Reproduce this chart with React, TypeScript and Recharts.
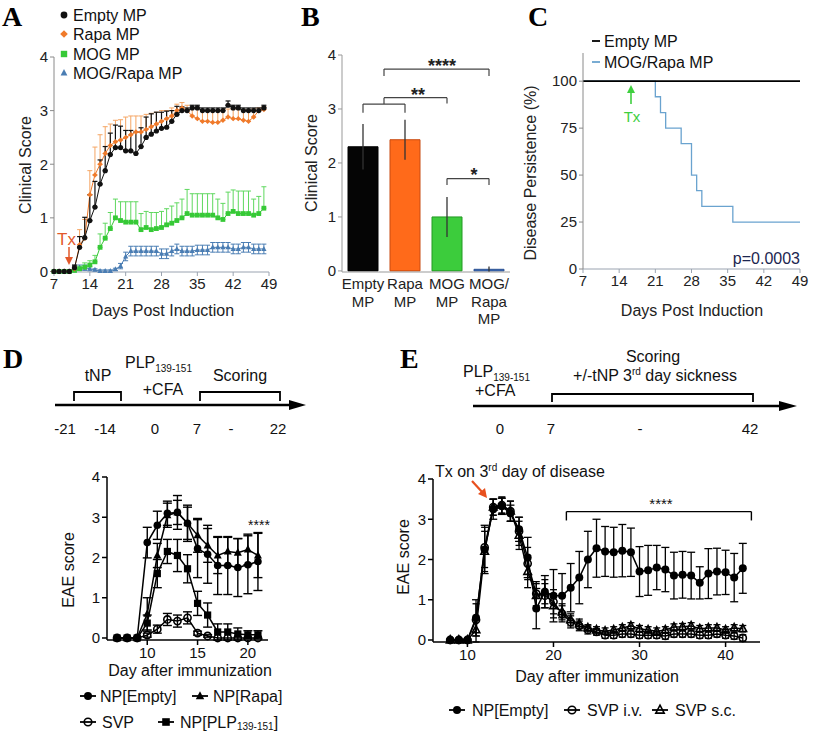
import React from "react";
import {
  LineChart,
  Line,
  XAxis,
  YAxis,
  ErrorBar,
  BarChart,
  Bar,
  Cell,
  ReferenceLine,
} from "recharts";

// ---------- Panel A : clinical score over time ----------
const aDays = [7, 8, 9, 10, 11, 12, 13, 14, 15, 16, 17, 18, 19, 20, 21, 22, 23, 24, 25, 26, 27, 28, 29, 30, 31, 32, 33, 34, 35, 36, 37, 38, 39, 40, 41, 42, 43, 44, 45, 46, 47, 48];
const emptyA = [0, 0, 0, 0, 0.07, 0.45, 0.63, 0.95, 1.2, 1.63, 1.88, 2.18, 2.31, 2.31, 2.25, 2.25, 2.2, 2.33, 2.5, 2.56, 2.62, 2.67, 2.69, 2.8, 2.93, 3.0, 3.0, 3.05, 3.05, 3.0, 3.0, 3.0, 3.0, 3.0, 3.1, 3.05, 3.05, 3.0, 3.0, 3.0, 3.0, 3.05];
const emptyAErr = [0, 0, 0, 0, 0.05, 0.2, 0.38, 0.48, 0.48, 0.45, 0.45, 0.4, 0.42, 0.4, 0.38, 0.38, 0.4, 0.35, 0.38, 0.38, 0.35, 0.3, 0.3, 0.2, 0.15, 0.07, 0.05, 0.05, 0.05, 0.05, 0.05, 0.05, 0.05, 0.05, 0.08, 0.05, 0.05, 0.05, 0.05, 0.05, 0.05, 0.05];
const rapaA = [0, 0, 0, 0, 0.05, 0.5, 0.62, 1.43, 1.8, 2.0, 2.2, 2.35, 2.42, 2.45, 2.5, 2.55, 2.6, 2.6, 2.65, 2.7, 2.75, 2.8, 2.85, 2.9, 3.0, 3.05, 3.0, 2.9, 2.85, 2.8, 2.8, 2.78, 2.78, 2.82, 2.88, 2.85, 2.85, 2.82, 2.8, 2.88, 3.0, 3.02];
const rapaAErr = [0, 0, 0, 0, 0.05, 0.28, 0.35, 0.45, 0.52, 0.55, 0.5, 0.4, 0.4, 0.38, 0.38, 0.35, 0.3, 0.3, 0.28, 0.25, 0.22, 0.2, 0.15, 0.15, 0.12, 0.1, 0.1, 0.15, 0.18, 0.2, 0.2, 0.22, 0.22, 0.18, 0.15, 0.18, 0.18, 0.2, 0.2, 0.15, 0.05, 0.05];
const mogA = [0, 0, 0, 0, 0.02, 0.05, 0.08, 0.12, 0.18, 0.45, 0.62, 0.8, 1.0, 0.95, 0.92, 0.92, 0.92, 0.78, 0.82, 0.78, 0.8, 0.82, 0.87, 0.9, 0.95, 1.0, 1.08, 1.05, 1.05, 1.05, 1.05, 1.05, 1.0, 0.97, 1.08, 1.12, 1.08, 1.08, 1.08, 1.05, 1.08, 1.18];
const mogAErr = [0, 0, 0, 0, 0.03, 0.05, 0.08, 0.08, 0.12, 0.25, 0.28, 0.3, 0.35, 0.35, 0.38, 0.38, 0.38, 0.3, 0.3, 0.32, 0.3, 0.3, 0.3, 0.32, 0.33, 0.35, 0.45, 0.4, 0.4, 0.4, 0.4, 0.4, 0.35, 0.3, 0.4, 0.4, 0.42, 0.42, 0.42, 0.3, 0.32, 0.4];
const mogRapaA = [0, 0, 0, 0, 0.05, 0.07, 0.07, 0.05, 0.03, 0.01, 0.01, 0.01, 0.04, 0.1, 0.28, 0.38, 0.38, 0.38, 0.38, 0.38, 0.38, 0.33, 0.33, 0.38, 0.42, 0.38, 0.38, 0.38, 0.4, 0.4, 0.4, 0.45, 0.45, 0.45, 0.45, 0.42, 0.42, 0.45, 0.45, 0.42, 0.42, 0.42];
const mogRapaAErr = [0, 0, 0, 0, 0.06, 0.05, 0.05, 0.04, 0.02, 0.02, 0.02, 0.02, 0.02, 0.05, 0.08, 0.09, 0.09, 0.09, 0.09, 0.09, 0.09, 0.09, 0.09, 0.09, 0.09, 0.09, 0.09, 0.09, 0.09, 0.09, 0.09, 0.09, 0.09, 0.09, 0.09, 0.09, 0.09, 0.09, 0.09, 0.09, 0.09, 0.09];
const ticksA = [7, 14, 21, 28, 35, 42, 49];

// ---------- Panel B : mean clinical score ----------
const bCategories = ["Empty MP", "Rapa MP", "MOG MP", "MOG/Rapa MP"];
const bPositions = [0, 1, 2, 3];
const bTickLines = [["Empty", "MP"], ["Rapa", "MP"], ["MOG", "MP"], ["MOG/", "Rapa", "MP"]];
const bValues = [2.3, 2.43, 1.0, 0.03];
const bErr = [0.42, 0.37, 0.37, 0.05];
const bColors = ["#050505", "#ff6a1a", "#3ccc3c", "#3a6fc4"];
const bStrokes = ["#000", "#c84a10", "#239a23", "#2a4f90"];
// brackets in bar-position units (0 = first bar centre)
const bBrackets = [
  { x1: 0, x2: 1, y: 3.09, drop1: 2.93, drop2: 2.93 },
  { x1: 0.5, x2: 2, y: 3.21, drop1: 3.09, drop2: 3.1 },
  { x1: 0.5, x2: 3, y: 3.74, drop1: 3.61, drop2: 3.61 },
  { x1: 2, x2: 3, y: 1.71, drop1: 1.59, drop2: 1.59 },
];

// ---------- Panel C : disease persistence ----------
const cEmptyDays = [7, 49];
const cEmptyPct = [100, 100];
const cMogRapaDays = [7, 21, 22, 23, 26, 28, 29, 30, 36, 49];
const cMogRapaPct = [100, 91.7, 83.3, 75, 66.7, 50, 41.7, 33.3, 25, 25];

// ---------- Panel D : EAE score, prophylactic ----------
const dDays = [7, 8, 9, 10, 11, 12, 13, 14, 15, 16, 17, 18, 19, 20, 21];
const npEmptyD = [0, 0, 0, 2.37, 2.8, 3.1, 3.12, 2.85, 2.22, 2.08, 1.8, 1.8, 1.75, 1.82, 1.9];
const npEmptyDErr = [0, 0, 0, 0.38, 0.35, 0.3, 0.3, 0.4, 0.72, 0.72, 0.72, 0.72, 0.72, 0.72, 0.72];
const npRapaD = [0, 0, 0, 0.6, 2.05, 3.05, 3.12, 2.85, 2.55, 2.3, 2.05, 2.15, 2.12, 2.2, 2.05];
const npRapaDErr = [0, 0, 0, 0.4, 0.3, 0.3, 0.42, 0.45, 0.42, 0.42, 0.45, 0.35, 0.35, 0.38, 0.55];
const svpD = [0, 0, 0, 0.07, 0.22, 0.46, 0.42, 0.5, 0.12, 0.05, 0, 0, 0, 0, 0];
const svpDErr = [0, 0, 0, 0.05, 0.1, 0.15, 0.15, 0.15, 0.05, 0.03, 0, 0, 0, 0, 0];
const plpD = [0, 0, 0, 0.37, 1.6, 2.15, 2.05, 1.72, 0.86, 0.57, 0.15, 0.15, 0.1, 0.08, 0.08];
const plpDErr = [0, 0, 0, 0.2, 0.35, 0.3, 0.4, 0.35, 0.3, 0.3, 0.2, 0.2, 0.15, 0.1, 0.1];

// ---------- Panel E : EAE score, therapeutic ----------
const eDays = [8, 9, 10, 11, 12, 13, 14, 15, 16, 17, 18, 19, 20, 21, 22, 23, 24, 25, 26, 27, 28, 29, 30, 31, 32, 33, 34, 35, 36, 37, 38, 39, 40, 41, 42];
const npEmptyE = [0, 0, 0, 0.55, 2.25, 3.25, 3.32, 3.15, 2.75, 2.05, 0.78, 1.2, 1.1, 1.1, 1.3, 1.55, 2.0, 2.28, 2.2, 2.18, 2.22, 2.18, 1.7, 1.73, 1.8, 1.75, 1.6, 1.62, 1.6, 1.42, 1.65, 1.7, 1.68, 1.55, 1.78];
const npEmptyEErr = [0, 0, 0.02, 0.45, 0.6, 0.25, 0.2, 0.2, 0.3, 0.5, 0.5, 0.4, 0.65, 0.55, 0.6, 0.65, 0.7, 0.72, 0.62, 0.62, 0.65, 0.6, 0.62, 0.62, 0.55, 0.55, 0.58, 0.58, 0.58, 0.4, 0.62, 0.58, 0.55, 0.6, 0.62];
const svpIvE = [0, 0, 0, 0.5, 2.3, 3.3, 3.35, 3.2, 2.7, 1.9, 1.15, 1.1, 0.95, 0.65, 0.45, 0.35, 0.25, 0.2, 0.12, 0.12, 0.15, 0.15, 0.12, 0.12, 0.12, 0.1, 0.15, 0.15, 0.15, 0.12, 0.12, 0.15, 0.12, 0.1, 0.05];
const svpIvEErr = [0, 0, 0, 0.4, 0.5, 0.2, 0.2, 0.25, 0.35, 0.4, 0.3, 0.3, 0.3, 0.2, 0.15, 0.12, 0.1, 0.08, 0.08, 0.08, 0.08, 0.08, 0.08, 0.08, 0.08, 0.08, 0.08, 0.08, 0.08, 0.08, 0.08, 0.08, 0.08, 0.08, 0.08];
const svpScE = [0, 0, 0, 0.25, 2.2, 3.3, 3.35, 3.2, 2.6, 1.7, 1.1, 1.2, 0.85, 0.7, 0.5, 0.4, 0.3, 0.25, 0.22, 0.25, 0.3, 0.35, 0.28, 0.25, 0.22, 0.25, 0.32, 0.33, 0.35, 0.28, 0.3, 0.3, 0.25, 0.3, 0.28];
const svpScEErr = [0, 0, 0, 0.3, 0.5, 0.2, 0.2, 0.25, 0.35, 0.4, 0.3, 0.3, 0.3, 0.2, 0.15, 0.12, 0.08, 0.08, 0.08, 0.08, 0.08, 0.08, 0.08, 0.08, 0.08, 0.08, 0.08, 0.08, 0.08, 0.08, 0.08, 0.08, 0.08, 0.08, 0.08];
const eBracket = { x1: 21.5, x2: 43, y: 3.19, drop: 2.97 };

// tables built from the arrays above
const tableA = aDays.map((day, i) => ({
  day,
  empty: emptyA[i],
  emptyErr: [0, emptyAErr[i]],
  rapa: rapaA[i],
  rapaErr: [0, rapaAErr[i]],
  mog: mogA[i],
  mogErr: [0, mogAErr[i]],
  mogRapa: mogRapaA[i],
  mogRapaErr: [mogRapaAErr[i], mogRapaAErr[i]],
}));
const tableB = bCategories.map((name, i) => ({ name, pos: bPositions[i], value: bValues[i], err: bErr[i] }));
const tableCEmpty = cEmptyDays.map((day, i) => ({ day, pct: cEmptyPct[i] }));
const tableCMogRapa = cMogRapaDays.map((day, i) => ({ day, pct: cMogRapaPct[i] }));
const tableD = dDays.map((day, i) => ({
  day,
  npEmpty: npEmptyD[i], npEmptyErr: npEmptyDErr[i],
  npRapa: npRapaD[i], npRapaErr: npRapaDErr[i],
  svp: svpD[i], svpErr: svpDErr[i],
  plp: plpD[i], plpErr: plpDErr[i],
}));
const tableE = eDays.map((day, i) => ({
  day,
  npEmpty: npEmptyE[i], npEmptyErr: npEmptyEErr[i],
  svpIv: svpIvE[i], svpIvErr: svpIvEErr[i],
  svpSc: svpScE[i], svpScErr: svpScEErr[i],
}));

const FONT = '"Liberation Sans", Arial, Helvetica, sans-serif';
const SERIF = '"Liberation Serif", "Times New Roman", serif';

const C_BLACK = "#111";
const C_ORANGE = "#f07a2a";
const C_ORANGE_ERR = "#f5a563";
const C_GREEN = "#36c936";
const C_GREEN_ERR = "#5fd85f";
const C_BLUE = "#4a7db3";
const C_SURV = "#6aa3cf";

type Shape = "circle" | "diamond" | "square" | "triangle" | "openCircle" | "openTriangle";

function Marker({ cx, cy, r, shape, color }: { cx: number; cy: number; r: number; shape: Shape; color: string }) {
  switch (shape) {
    case "circle":
      return <circle cx={cx} cy={cy} r={r} fill={color} />;
    case "openCircle":
      return <circle cx={cx} cy={cy} r={r} fill="none" stroke={color} strokeWidth={1.6} />;
    case "diamond":
      return <polygon points={`${cx},${cy - r} ${cx + r},${cy} ${cx},${cy + r} ${cx - r},${cy}`} fill={color} />;
    case "square":
      return <rect x={cx - r} y={cy - r} width={2 * r} height={2 * r} fill={color} />;
    case "triangle":
      return <polygon points={`${cx},${cy - r * 1.15} ${cx + r},${cy + r * 0.75} ${cx - r},${cy + r * 0.75}`} fill={color} />;
    default:
      return (
        <polygon
          points={`${cx},${cy - r * 1.15} ${cx + r},${cy + r * 0.75} ${cx - r},${cy + r * 0.75}`}
          fill="none"
          stroke={color}
          strokeWidth={1.6}
        />
      );
  }
}

const makeDot = (shape: Shape, r: number, color: string) => (props: any) => {
  const { cx, cy, index } = props;
  if (cx == null || cy == null) return <g key={`d${index}`} />;
  return <Marker key={`d${index}`} cx={cx} cy={cy} r={r} shape={shape} color={color} />;
};

const BTick = (props: any) => {
  const { x, y, payload } = props;
  const idx = bCategories.indexOf(payload.value);
  const lines = bTickLines[idx] ?? [payload.value];
  return (
    <text x={x} y={y} textAnchor="middle" fontSize={15} fill="#222">
      {lines.map((l, i) => (
        <tspan key={i} x={x} dy={i === 0 ? 11 : 17.5}>
          {l}
        </tspan>
      ))}
    </text>
  );
};

const grayTick = { fontSize: 15, fill: "#222" };
const blackTick = { fontSize: 15, fill: "#111" };

function PanelA() {
  return (
    <LineChart width={280} height={300} data={tableA} margin={{ top: 57, right: 11, bottom: 8, left: 30 }}>
      <XAxis type="number" dataKey="day" domain={[7, 49]} ticks={ticksA} interval={0} height={20} tickSize={4} stroke="#9aa3b0" tick={grayTick} />
      <YAxis type="number" domain={[0, 4]} ticks={[0, 1, 2, 3, 4]} width={24} tickSize={4} stroke="#8a8a8a" tick={grayTick} />
      <Line dataKey="mogRapa" stroke={C_BLUE} strokeWidth={1} dot={makeDot("triangle", 2.6, C_BLUE)} isAnimationActive={false}>
        <ErrorBar dataKey="mogRapaErr" width={2.5} stroke={C_BLUE} strokeWidth={1} />
      </Line>
      <Line dataKey="mog" stroke={C_GREEN} strokeWidth={1} dot={makeDot("square", 2.4, C_GREEN)} isAnimationActive={false}>
        <ErrorBar dataKey="mogErr" width={2.5} stroke={C_GREEN_ERR} strokeWidth={1} />
      </Line>
      <Line dataKey="rapa" stroke={C_ORANGE} strokeWidth={1} dot={makeDot("diamond", 2.7, C_ORANGE)} isAnimationActive={false}>
        <ErrorBar dataKey="rapaErr" width={2.5} stroke={C_ORANGE_ERR} strokeWidth={1} />
      </Line>
      <Line dataKey="empty" stroke={C_BLACK} strokeWidth={1} dot={makeDot("circle", 2.6, C_BLACK)} isAnimationActive={false}>
        <ErrorBar dataKey="emptyErr" width={2.5} stroke={C_BLACK} strokeWidth={1.2} />
      </Line>
    </LineChart>
  );
}

function PanelB() {
  return (
    <BarChart width={230} height={330} data={tableB} margin={{ top: 55, right: 10, bottom: 8, left: 28 }}>
      <XAxis xAxisId="cat" dataKey="name" interval={0} height={50} tickLine={false} tickSize={4} stroke="#999" tick={<BTick />} />
      <XAxis xAxisId="num" dataKey="pos" type="number" domain={[-0.5, 3.5]} allowDataOverflow hide />
      <YAxis type="number" domain={[0, 4]} ticks={[0, 1, 2, 3, 4]} width={24} tickSize={4} stroke="#999" tick={grayTick} />
      <Bar xAxisId="cat" dataKey="value" barSize={30} isAnimationActive={false}>
        {tableB.map((_, i) => (
          <Cell key={i} fill={bColors[i]} stroke={bStrokes[i]} strokeWidth={1} />
        ))}
        <ErrorBar dataKey="err" width={0} stroke="#333" strokeWidth={1.3} />
      </Bar>
      {bBrackets.map((b, i) => (
        <ReferenceLine key={`h${i}`} xAxisId="num" ifOverflow="visible" segment={[{ x: b.x1, y: b.y }, { x: b.x2, y: b.y }]} stroke="#444" strokeWidth={1.2} />
      ))}
      {bBrackets.map((b, i) => (
        <ReferenceLine key={`l${i}`} xAxisId="num" ifOverflow="visible" segment={[{ x: b.x1, y: b.drop1 }, { x: b.x1, y: b.y }]} stroke="#444" strokeWidth={1.2} />
      ))}
      {bBrackets.map((b, i) => (
        <ReferenceLine key={`r${i}`} xAxisId="num" ifOverflow="visible" segment={[{ x: b.x2, y: b.drop2 }, { x: b.x2, y: b.y }]} stroke="#444" strokeWidth={1.2} />
      ))}
    </BarChart>
  );
}

function PanelC() {
  return (
    <LineChart width={270} height={300} margin={{ top: 53, right: 10, bottom: 11, left: 13 }}>
      <XAxis type="number" dataKey="day" domain={[7, 49]} ticks={ticksA} interval={0} height={20} tickSize={4} stroke="#9aa3b0" tick={grayTick} allowDuplicatedCategory={false} />
      <YAxis type="number" domain={[0, 115]} ticks={[0, 25, 50, 75, 100]} width={30} tickSize={4} stroke="#8a8a8a" tick={grayTick} />
      <Line data={tableCMogRapa} dataKey="pct" type="stepAfter" stroke={C_SURV} strokeWidth={1.3} dot={false} isAnimationActive={false} />
      <Line data={tableCEmpty} dataKey="pct" type="linear" stroke="#000" strokeWidth={1.6} dot={false} isAnimationActive={false} />
    </LineChart>
  );
}

function PanelD() {
  return (
    <LineChart width={220} height={225} data={tableD} margin={{ top: 37, right: 12, bottom: 3, left: 25 }}>
      <XAxis type="number" dataKey="day" domain={[6, 22]} ticks={[10, 15, 20]} interval={0} height={22} tickSize={5} stroke="#000" strokeWidth={1.5} tick={blackTick} />
      <YAxis type="number" domain={[0, 4]} ticks={[0, 1, 2, 3, 4]} width={22} tickSize={5} stroke="#000" strokeWidth={1.5} tick={blackTick} />
      <Line dataKey="svp" stroke="#000" strokeWidth={1.5} dot={makeDot("openCircle", 3.6, "#000")} isAnimationActive={false}>
        <ErrorBar dataKey="svpErr" width={4.5} stroke="#000" strokeWidth={1.4} />
      </Line>
      <Line dataKey="plp" stroke="#000" strokeWidth={1.5} dot={makeDot("square", 3.6, "#000")} isAnimationActive={false}>
        <ErrorBar dataKey="plpErr" width={4.5} stroke="#000" strokeWidth={1.4} />
      </Line>
      <Line dataKey="npRapa" stroke="#000" strokeWidth={1.5} dot={makeDot("triangle", 4, "#000")} isAnimationActive={false}>
        <ErrorBar dataKey="npRapaErr" width={4.5} stroke="#000" strokeWidth={1.4} />
      </Line>
      <Line dataKey="npEmpty" stroke="#000" strokeWidth={1.5} dot={makeDot("circle", 3.8, "#000")} isAnimationActive={false}>
        <ErrorBar dataKey="npEmptyErr" width={4.5} stroke="#000" strokeWidth={1.4} />
      </Line>
    </LineChart>
  );
}

function PanelE() {
  return (
    <LineChart width={380} height={230} data={tableE} margin={{ top: 39, right: 10, bottom: 6, left: 21 }}>
      <XAxis type="number" dataKey="day" domain={[6, 44]} ticks={[10, 20, 30, 40]} interval={0} height={22} tickSize={5} stroke="#000" strokeWidth={1.5} tick={blackTick} />
      <YAxis type="number" domain={[0, 4]} ticks={[0, 1, 2, 3, 4]} width={22} tickSize={5} stroke="#000" strokeWidth={1.5} tick={blackTick} />
      <Line dataKey="svpSc" stroke="#000" strokeWidth={1.5} dot={makeDot("openTriangle", 3.8, "#000")} isAnimationActive={false}>
        <ErrorBar dataKey="svpScErr" width={3.5} stroke="#000" strokeWidth={1.3} />
      </Line>
      <Line dataKey="svpIv" stroke="#000" strokeWidth={1.5} dot={makeDot("openCircle", 3.6, "#000")} isAnimationActive={false}>
        <ErrorBar dataKey="svpIvErr" width={3.5} stroke="#000" strokeWidth={1.3} />
      </Line>
      <Line dataKey="npEmpty" stroke="#000" strokeWidth={1.5} dot={makeDot("circle", 4, "#000")} isAnimationActive={false}>
        <ErrorBar dataKey="npEmptyErr" width={4} stroke="#000" strokeWidth={1.3} />
      </Line>
      <ReferenceLine segment={[{ x: eBracket.x1, y: eBracket.y }, { x: eBracket.x2, y: eBracket.y }]} stroke="#000" strokeWidth={1.4} />
      <ReferenceLine segment={[{ x: eBracket.x1, y: eBracket.drop }, { x: eBracket.x1, y: eBracket.y }]} stroke="#000" strokeWidth={1.4} />
      <ReferenceLine segment={[{ x: eBracket.x2, y: eBracket.drop }, { x: eBracket.x2, y: eBracket.y }]} stroke="#000" strokeWidth={1.4} />
    </LineChart>
  );
}

// legend row with a short line through the marker
const LegendItem = ({ x, y, shape, color, line, r }: { x: number; y: number; shape: Shape; color: string; line?: boolean; r: number }) => (
  <g>
    {line && <line x1={x - 8} x2={x + 8} y1={y} y2={y} stroke={color} strokeWidth={1.8} />}
    <Marker cx={x} cy={y} r={r} shape={shape} color={color} />
  </g>
);

function Overlay() {
  return (
    <svg width={817} height={734} style={{ position: "absolute", left: 0, top: 0, pointerEvents: "none", fontFamily: FONT }}>
      {/* panel letters */}
      <g fontFamily={SERIF} fontWeight="bold" fontSize={28} fill="#000">
        <text x={2} y={26}>A</text>
        <text x={301} y={26}>B</text>
        <text x={528} y={26}>C</text>
        <text x={3} y={368}>D</text>
        <text x={400} y={368}>E</text>
      </g>

      {/* ---- A ---- */}
      <LegendItem x={64} y={15} shape="circle" color={C_BLACK} r={3.4} />
      <LegendItem x={64} y={34} shape="diamond" color={C_ORANGE} r={3.8} />
      <LegendItem x={64} y={54} shape="square" color={C_GREEN} r={3.2} />
      <LegendItem x={64} y={73} shape="triangle" color={C_BLUE} r={3.4} />
      <g fontSize={16} fill="#111">
        <text x={73} y={21}>Empty MP</text>
        <text x={73} y={40}>Rapa MP</text>
        <text x={73} y={60}>MOG MP</text>
        <text x={73} y={79}>MOG/Rapa MP</text>
      </g>
      <text x={57} y={245} fontSize={17} fill="#e2582a">Tx</text>
      <line x1={69} x2={69} y1={247} y2={258} stroke="#e2582a" strokeWidth={1.5} />
      <polygon points="65,257 73,257 69,265" fill="#e2582a" />
      <text transform="translate(25,165) rotate(-90)" textAnchor="middle" dominantBaseline="central" fontSize={16} fill="#222">Clinical Score</text>
      <text x={163} y={316} textAnchor="middle" fontSize={16} fill="#222">Days Post Induction</text>

      {/* ---- B ---- */}
      <text transform="translate(311,163) rotate(-90)" textAnchor="middle" dominantBaseline="central" fontSize={16} fill="#222">Clinical Score</text>
      <g fontSize={18} fontWeight="bold" fill="#222" textAnchor="middle">
        <text x={442} y={72}>****</text>
        <text x={418} y={101}>**</text>
        <text x={474} y={181}>*</text>
      </g>

      {/* ---- C ---- */}
      <line x1={592} x2={600} y1={41} y2={41} stroke="#000" strokeWidth={1.8} />
      <line x1={592} x2={600} y1={62} y2={62} stroke={C_SURV} strokeWidth={1.8} />
      <g fontSize={16} fill="#111">
        <text x={604} y={47}>Empty MP</text>
        <text x={604} y={68}>MOG/Rapa MP</text>
      </g>
      <line x1={631} x2={631} y1={104} y2={92} stroke="#3fcf3f" strokeWidth={1.6} />
      <polygon points="627,93 635,93 631,85" fill="#3fcf3f" />
      <text x={632} y={122} textAnchor="middle" fontSize={15} fill="#3fcf3f">Tx</text>
      <text x={800} y={264} textAnchor="end" fontSize={16} fill="#1c2650">p=0.0003</text>
      <text transform="translate(530,173) rotate(-90)" textAnchor="middle" dominantBaseline="central" fontSize={16} fill="#222">Disease Persistence (%)</text>
      <text x={692} y={316} textAnchor="middle" fontSize={16} fill="#222">Days Post Induction</text>

      {/* ---- D timeline ---- */}
      <line x1={55} x2={292} y1={405} y2={405} stroke="#000" strokeWidth={2.6} />
      <polygon points="289,400 306,405 289,410" fill="#000" />
      <path d="M74,401 V392 H121 V401" fill="none" stroke="#000" strokeWidth={1.8} />
      <path d="M200,401 V392 H280 V401" fill="none" stroke="#000" strokeWidth={1.8} />
      <g fontSize={16} fill="#111">
        <text x={98} y={381} textAnchor="middle">tNP</text>
        <text x={125} y={368}>PLP<tspan fontSize={10} dy={4}>139-151</tspan></text>
        <text x={163} y={395} textAnchor="middle">+CFA</text>
        <text x={240} y={381} textAnchor="middle">Scoring</text>
      </g>
      <g fontSize={15} fill="#111" textAnchor="middle">
        <text x={65} y={434}>-21</text>
        <text x={105} y={434}>-14</text>
        <text x={155} y={434}>0</text>
        <text x={197} y={434}>7</text>
        <text x={231} y={434}>-</text>
        <text x={278} y={434}>22</text>
      </g>
      {/* ---- D chart labels ---- */}
      <text transform="translate(68,570) rotate(-90)" textAnchor="middle" dominantBaseline="central" fontSize={16} fill="#111">EAE score</text>
      <text x={190} y={676} textAnchor="middle" fontSize={16} fill="#111">Day after immunization</text>
      <text x={259} y={530} textAnchor="middle" fontSize={14} fill="#111">****</text>
      <LegendItem x={88} y={696} shape="circle" color="#000" r={4} line />
      <LegendItem x={200} y={696} shape="triangle" color="#000" r={4.2} line />
      <LegendItem x={88} y={722} shape="openCircle" color="#000" r={3.8} line />
      <LegendItem x={166} y={722} shape="square" color="#000" r={3.8} line />
      <g fontSize={16} fill="#111">
        <text x={100} y={702}>NP[Empty]</text>
        <text x={213} y={702}>NP[Rapa]</text>
        <text x={102} y={728}>SVP</text>
        <text x={180} y={728}>NP[PLP<tspan fontSize={10} dy={2}>139-151</tspan><tspan dy={-2}>]</tspan></text>
      </g>

      {/* ---- E timeline ---- */}
      <line x1={473} x2={782} y1={406} y2={406} stroke="#000" strokeWidth={2.6} />
      <polygon points="779,401 797,406 779,411" fill="#000" />
      <path d="M552,402 V394 H753 V402" fill="none" stroke="#000" strokeWidth={1.8} />
      <g fontSize={16} fill="#111">
        <text x={653} y={362} textAnchor="middle">Scoring</text>
        <text x={655} y={381} textAnchor="middle">+/-tNP 3<tspan fontSize={10} dy={-6}>rd</tspan><tspan dy={6}> day sickness</tspan></text>
        <text x={463} y={377}>PLP<tspan fontSize={10} dy={4}>139-151</tspan></text>
        <text x={475} y={396}>+CFA</text>
      </g>
      <g fontSize={15} fill="#111" textAnchor="middle">
        <text x={500} y={434}>0</text>
        <text x={551} y={434}>7</text>
        <text x={640} y={434}>-</text>
        <text x={750} y={434}>42</text>
      </g>
      {/* ---- E chart labels ---- */}
      <text x={435} y={477} fontSize={16} fill="#111">Tx on 3<tspan fontSize={10} dy={-6}>rd</tspan><tspan dy={6}> day of disease</tspan></text>
      <line x1={472} x2={483} y1={481} y2={493} stroke="#e8501e" strokeWidth={2.2} />
      <polygon points="478,494 487,498 485,488" fill="#e8501e" />
      <text x={661} y={509} textAnchor="middle" fontSize={15} fill="#111">****</text>
      <text transform="translate(403,557) rotate(-90)" textAnchor="middle" dominantBaseline="central" fontSize={16} fill="#111">EAE score</text>
      <text x={597} y={682} textAnchor="middle" fontSize={16} fill="#111">Day after immunization</text>
      <LegendItem x={457} y={710} shape="circle" color="#000" r={4} line />
      <LegendItem x={572} y={710} shape="openCircle" color="#000" r={3.8} line />
      <LegendItem x={660} y={710} shape="openTriangle" color="#000" r={4.2} line />
      <g fontSize={16} fill="#111">
        <text x={472} y={716}>NP[Empty]</text>
        <text x={587} y={716}>SVP i.v.</text>
        <text x={675} y={716}>SVP s.c.</text>
      </g>
    </svg>
  );
}

const box = (left: number, top: number): React.CSSProperties => ({ position: "absolute", left, top });

export default function App() {
  return (
    <div style={{ position: "absolute", left: 0, top: 0, width: 817, height: 734, background: "#fff", fontFamily: FONT, overflow: "hidden" }}>
      <div style={box(0, 0)}><PanelA /></div>
      <div style={box(290, 0)}><PanelB /></div>
      <div style={box(540, 0)}><PanelC /></div>
      <div style={box(60, 440)}><PanelD /></div>
      <div style={box(390, 440)}><PanelE /></div>
      <Overlay />
    </div>
  );
}
